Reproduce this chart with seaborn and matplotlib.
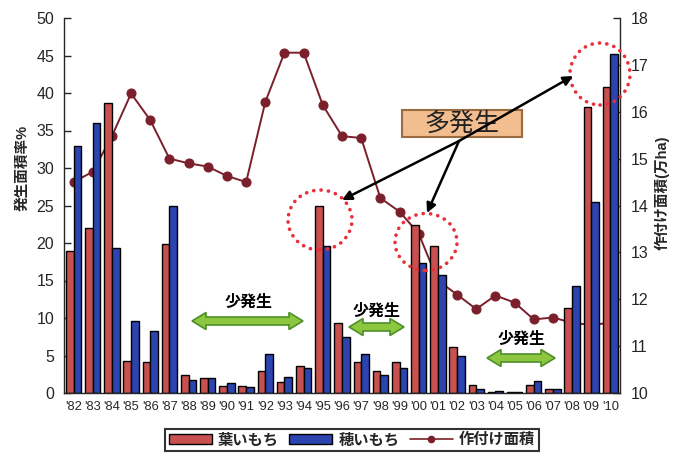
import numpy as np
import pandas as pd
import matplotlib
matplotlib.use("Agg")
import matplotlib.pyplot as plt
import seaborn as sns
from matplotlib.patches import Ellipse, Rectangle, Polygon, Patch
from matplotlib.lines import Line2D

# ---------------- data ----------------
years = ["'82", "'83", "'84", "'85", "'86", "'87", "'88", "'89", "'90", "'91",
         "'92", "'93", "'94", "'95", "'96", "'97", "'98", "'99", "'00", "'01",
         "'02", "'03", "'04", "'05", "'06", "'07", "'08", "'09", "'10"]
leaf_blast = [19.0, 22.0, 38.7, 4.3, 4.1, 19.9, 2.4, 2.0, 1.0, 1.0,
              3.0, 1.5, 3.6, 25.0, 9.4, 4.1, 2.9, 4.1, 22.4, 19.6,
              6.2, 1.1, 0.1, 0.1, 1.1, 0.5, 11.3, 38.2, 40.8]
panicle_blast = [32.9, 36.0, 19.4, 9.6, 8.3, 25.0, 1.7, 2.0, 1.4, 0.8,
                 5.2, 2.1, 3.4, 19.6, 7.5, 5.2, 2.4, 3.4, 17.3, 15.7,
                 5.0, 0.5, 0.3, 0.1, 1.6, 0.5, 14.3, 25.5, 45.2]
planted_area = [14.5, 14.72, 15.48, 16.39, 15.82, 15.0, 14.9, 14.83, 14.63, 14.5,
                16.21, 17.26, 17.26, 16.14, 15.48, 15.44, 14.16, 13.87, 13.4, 12.4,
                12.1, 11.79, 12.08, 11.93, 11.57, 11.61, 11.5, 11.45, 11.5]
series_names = ["葉いもち", "穂いもち", "作付け面積"]
left_ticks = list(range(0, 51, 5))
right_ticks = list(range(10, 19))

RED = "#C8504F"
BLUE = "#2B44B0"
LINE = "#7A1F2B"

df = pd.DataFrame({
    "year": years * 2,
    "value": leaf_blast + panicle_blast,
    "kind": [series_names[0]] * len(years) + [series_names[1]] * len(years),
})

sns.set_style("ticks")
plt.rcParams["font.family"] = ["Liberation Sans", "Noto Sans CJK JP", "DejaVu Sans"]

W, H = 676, 457
fig = plt.figure(figsize=(W / 100, H / 100), dpi=100)
L, R, T, B = 64, 620, 18, 393
ax = fig.add_axes([L / W, 1 - B / H, (R - L) / W, (B - T) / H])

sns.barplot(data=df, x="year", y="value", hue="kind", palette=[RED, BLUE],
            edgecolor="black", linewidth=1.0, width=0.8, saturation=1,
            legend=False, ax=ax)

ax2 = ax.twinx()
sns.lineplot(x=np.arange(len(years)), y=planted_area, ax=ax2, color=LINE,
             marker="o", markersize=6.5, markeredgecolor=LINE, linewidth=1.4)

ax.set_zorder(ax2.get_zorder() + 1)
ax.patch.set_visible(False)

ax.set_xlim(-0.5, len(years) - 0.5)
ax.set_ylim(0, 50)
ax.set_yticks(left_ticks)
ax2.set_ylim(10, 18)
ax2.set_yticks(right_ticks)
ax.set_xlabel("")
ax.set_ylabel("")
ax2.set_xlabel("")
ax2.set_ylabel("")

for a in (ax, ax2):
    a.spines["top"].set_visible(False)
ax.spines["right"].set_visible(False)
ax2.spines["left"].set_visible(False)
ax2.spines["bottom"].set_visible(False)
for s in ("left", "bottom"):
    ax.spines[s].set_linewidth(1.0)
ax2.spines["right"].set_linewidth(1.0)

ax.tick_params(axis="y", direction="in", length=5, width=1, pad=7, labelsize=11.5)
ax.tick_params(axis="x", length=0, pad=6, labelsize=9.3)
ax2.tick_params(axis="y", direction="in", length=5, width=1, pad=8, labelsize=11.5)
ax2.tick_params(axis="x", length=0, labelbottom=False)

# axis titles
fig.text(22 / W, 1 - 168 / H, "発生面積率%", rotation=90, ha="center", va="center",
         fontsize=10.5, fontweight="bold")
fig.text(662 / W, 1 - 193 / H, "作付け面積(万ha)", rotation=90, ha="center", va="center",
         fontsize=10.5, fontweight="bold")

# ---------------- annotations (pixel -> data helpers) ----------------
def X(px):
    return (px - L) / ((R - L) / len(years)) - 0.5

def Y(py):
    return (B - py) / ((B - T) / 50.0)

def DX(p):
    return p / ((R - L) / len(years))

def DY(p):
    return p / ((B - T) / 50.0)

# dotted circles
for cx, cy, w, h in [(320, 220, 64, 60), (426, 242, 62, 57), (600, 74, 60, 62)]:
    e = Ellipse((X(cx), Y(cy)), DX(w), DY(h), fill=False, ec="#E8303A",
                lw=2.6, ls=(0, (0.05, 2.0)), capstyle="round", zorder=7, clip_on=False)
    ax.add_patch(e)

# 多発生 box
ax.add_patch(Rectangle((X(402), Y(137)), DX(120), DY(27), fc="#F3BE8F",
                       ec="#9A6A40", lw=1.5, zorder=5))
ax.text(X(462), Y(124), "多発生", ha="center", va="center", fontsize=18,
        color="#222222", zorder=6)

src = (X(459), Y(141))
for hx, hy in [(342, 200), (427, 213), (573, 76)]:
    ax.annotate("", xy=(X(hx), Y(hy)), xytext=src,
                arrowprops=dict(arrowstyle="-|>", color="black", lw=1.8,
                                mutation_scale=14, shrinkA=0, shrinkB=0),
                zorder=8, annotation_clip=False)

# 少発生 double arrows
def double_arrow(x0, x1, yc, body=8, head=17, hl=14):
    xa, xb = X(x0), X(x1)
    yy = Y(yc)
    b2, h2, l = DY(body) / 2, DY(head) / 2, DX(hl)
    pts = [(xa, yy), (xa + l, yy + h2), (xa + l, yy + b2), (xb - l, yy + b2),
           (xb - l, yy + h2), (xb, yy), (xb - l, yy - h2), (xb - l, yy - b2),
           (xa + l, yy - b2), (xa + l, yy - h2)]
    ax.add_patch(Polygon(pts, closed=True, fc="#8DC63F", ec="#4E8F2A", lw=1.2, zorder=6))

for x0, x1, yc, tx, ty in [(192, 303, 321, 249, 302),
                            (349, 404, 327, 377, 311),
                            (487, 555, 358, 522, 339)]:
    double_arrow(x0, x1, yc)
    ax.text(X(tx), Y(ty), "少発生", ha="center", va="center", fontsize=11.5,
            fontweight="bold", color="black", zorder=6)

# ---------------- legend ----------------
handles = [Patch(fc=RED, ec="black", lw=1.0, label=series_names[0]),
           Patch(fc=BLUE, ec="black", lw=1.0, label=series_names[1]),
           Line2D([], [], color=LINE, marker="o", markersize=4.5, lw=1.2, label=series_names[2])]
leg = fig.legend(handles=handles, loc="center", bbox_to_anchor=(352 / W, 1 - 440 / H),
                 ncol=3, frameon=True, fancybox=False, edgecolor="black", fontsize=11,
                 handlelength=2.8, handleheight=0.6, columnspacing=0.7, handletextpad=0.4,
                 borderpad=0.25, borderaxespad=0)
leg.get_frame().set_linewidth(1.5)
for t in leg.get_texts():
    t.set_fontweight("bold")

fig.savefig("out.png", dpi=100)
